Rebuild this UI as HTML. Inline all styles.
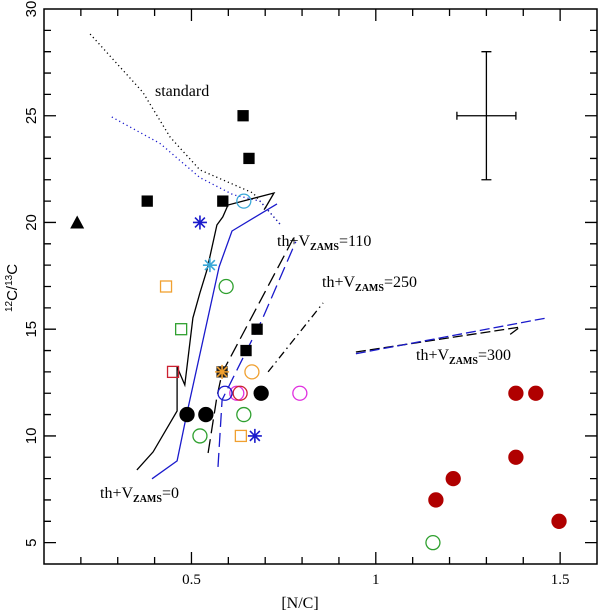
<!DOCTYPE html>
<html><head><meta charset="utf-8"><style>
html,body{margin:0;padding:0;background:#fff;width:600px;height:613px;overflow:hidden}
svg text{font-family:"Liberation Serif",serif;fill:#000}
</style></head><body>
<svg id="chart" width="600" height="613" viewBox="0 0 600 613" xmlns="http://www.w3.org/2000/svg">
<g id="curves"></g>
<g id="marks"></g>
<g id="axes"></g>
<g id="labels"></g>
</svg>
<script>
// ---- data ----
const xTickLabels = [0.5, 1, 1.5];
const yTickLabels = [5, 10, 15, 20, 25, 30];
const filledSquaresX = [0.38, 0.585, 0.64, 0.656, 0.678, 0.648];
const filledSquaresY = [21, 21, 25, 23, 15, 14];
const triangleX = [0.19];
const triangleY = [20];
const blackDotsX = [0.488, 0.539, 0.689];
const blackDotsY = [11, 11, 12];
const redDotsX = [1.38, 1.434, 1.38, 1.21, 1.163, 1.497];
const redDotsY = [12, 12, 9, 8, 7, 6];
const greenCirclesX = [0.594, 0.642, 0.523, 1.155];
const greenCirclesY = [17, 11, 10, 5];
const magentaCirclesX = [0.623, 0.794];
const magentaCirclesY = [12, 12];
const redCircleX = [0.632];
const redCircleY = [12];
const blueCircleX = [0.591];
const blueCircleY = [12];
const orangeCircleX = [0.664];
const orangeCircleY = [13];
const cyanCircleX = [0.642];
const cyanCircleY = [21];
const orangeSquaresX = [0.431, 0.634];
const orangeSquaresY = [17, 10];
const greenSquareX = [0.472];
const greenSquareY = [15];
const redSquareX = [0.45];
const redSquareY = [13];
const blueStarsX = [0.523, 0.672];
const blueStarsY = [20, 10];
const cyanStarX = [0.55];
const cyanStarY = [18];
const orangeStarX = [0.583];
const orangeStarY = [13];
const errX = [1.3], errY = [25], errDx = [0.08], errDy = [3];
// model tracks
const th0BlackX = [0.352,0.396,0.461,0.461,0.482,0.504,0.523,0.542,0.569,0.585,0.599,0.724,0.705,0.697];
const th0BlackY = [8.41,9.25,11.17,13.23,12.39,15.53,16.70,17.78,19.88,20.26,20.82,21.38,20.82,20.6];
const th0BlueX = [0.393,0.461,0.488,0.575,0.61,0.732];
const th0BlueY = [7.99,8.83,11.08,17.92,19.6,20.87];
const stdBlackX = [0.225,0.368,0.442,0.523,0.667,0.74];
const stdBlackY = [28.83,26.1,24.0,22.46,21.38,19.93];
const stdBlueX = [0.284,0.415,0.523,0.613,0.686,0.74];
const stdBlueY = [24.94,23.7,22.1,21.3,21.0,19.93];
const v110BlackX = [0.545,0.569,0.583,0.781];
const v110BlackY = [9.2,11.83,12.95,19.41];
const v110BlueX = [0.572,0.583,0.691,0.783];
const v110BlueY = [8.55,11.69,15.43,19.1];
const v250X = [0.708,0.857];
const v250Y = [13.0,16.23];
const v300BlackX = [0.946,1.391,1.36];
const v300BlackY = [13.93,15.1,14.7];
const v300BlueX = [0.946,1.464];
const v300BlueY = [13.85,15.53];

// ---- scales ----
const X0=44, X1=597, Y0=564, Y1=9;
const xmin=0.1, xmax=1.6, ymin=4, ymax=30;
const sx = v => X0 + (v-xmin)/(xmax-xmin)*(X1-X0);
const sy = v => Y0 - (v-ymin)/(ymax-ymin)*(Y0-Y1);
const NS="http://www.w3.org/2000/svg";
function mk(tag, parent, attrs){const e=document.createElementNS(NS,tag);for(const k in attrs)e.setAttribute(k,attrs[k]);parent.appendChild(e);return e;}
const gC=document.getElementById('curves'), gM=document.getElementById('marks'), gA=document.getElementById('axes'), gL=document.getElementById('labels');

function line(xs, ys, color, dash, name, w){
  const d = xs.map((x,i)=>(i?'L':'M')+sx(x).toFixed(1)+' '+sy(ys[i]).toFixed(1)).join(' ');
  const p = mk('path', gC, {d:d, fill:'none', stroke:color, 'stroke-width':w||1.3});
  if(dash) p.setAttribute('stroke-dasharray', dash);
  
  
}
line(stdBlackX, stdBlackY, '#000', '1.2 3', 'standard-track-black', 1.3);
line(stdBlueX, stdBlueY, '#1a1acc', '1.2 3', 'standard-track-blue', 1.3);
line(th0BlackX, th0BlackY, '#000', null, 'rotation-0-track-black');
line(th0BlueX, th0BlueY, '#1a1acc', null, 'rotation-0-track-blue');
line(v110BlackX, v110BlackY, '#000', '14 6', 'rotation-110-track-black');
line(v110BlueX, v110BlueY, '#1a1acc', '14 6', 'rotation-110-track-blue');
line(v250X, v250Y, '#000', '8 4 1.5 4', 'rotation-250-track');
line(v300BlackX, v300BlackY, '#000', '10 4', 'rotation-300-track-black');
line(v300BlueX, v300BlueY, '#1a1acc', '10 4', 'rotation-300-track-blue');

function circles(xs, ys, color, filled, name){
  xs.forEach((x,i)=>{
    const c = mk('circle', gM, {cx:sx(x), cy:sy(ys[i]), r:7, fill:filled?color:'none', stroke:color, 'stroke-width':1.3});
    
    
  });
}
function squares(xs, ys, color, filled, name){
  xs.forEach((x,i)=>{
    const s = filled?10:11;
    const r = mk('rect', gM, {x:sx(x)-s/2, y:sy(ys[i])-s/2, width:s, height:s, fill:filled?color:'none', stroke:color, 'stroke-width':1.3});
    
    
  });
}
function stars(xs, ys, color, name){
  xs.forEach((x,i)=>{
    const cx=sx(x), cy=sy(ys[i]), R=7;
    let d='';
    for(let k=0;k<4;k++){const a=k*Math.PI/4;d+=`M${cx-R*Math.cos(a)} ${cy-R*Math.sin(a)}L${cx+R*Math.cos(a)} ${cy+R*Math.sin(a)}`;}
    const p = mk('path', gM, {d:d, stroke:color, 'stroke-width':1.6, fill:'none'});
    
    
  });
}
triangleX.forEach((x,i)=>{
  const cx=sx(x), cy=sy(triangleY[i]);
  const t = mk('polygon', gM, {points:`${cx-7},${cy+6} ${cx+7},${cy+6} ${cx},${cy-7}`, fill:'#000'});
  
  
});
squares(filledSquaresX, filledSquaresY, '#000', true, 'black-square-point');
circles(blackDotsX, blackDotsY, '#000', true, 'black-dot-point');
circles(redDotsX, redDotsY, '#b00000', true, 'red-dot-point');
circles(greenCirclesX, greenCirclesY, '#2fa02f', false, 'green-circle-point');
circles(magentaCirclesX, magentaCirclesY, '#e030e0', false, 'magenta-circle-point');
circles(redCircleX, redCircleY, '#cc2030', false, 'red-circle-point');
circles(blueCircleX, blueCircleY, '#1a1acc', false, 'blue-circle-point');
circles(orangeCircleX, orangeCircleY, '#f0a030', false, 'orange-circle-point');
circles(cyanCircleX, cyanCircleY, '#3aa8d8', false, 'cyan-circle-point');
squares(orangeSquaresX, orangeSquaresY, '#f0a030', false, 'orange-square-point');
squares(greenSquareX, greenSquareY, '#2fa02f', false, 'green-square-point');
squares(redSquareX, redSquareY, '#cc2030', false, 'red-square-point');
squares(orangeStarX, orangeStarY, '#222', true, 'orange-star-square-point');
stars(orangeStarX, orangeStarY, '#f0a030', 'orange-star-point');
stars(blueStarsX, blueStarsY, '#1a1acc', 'blue-star-point');
stars(cyanStarX, cyanStarY, '#3aa8d8', 'cyan-star-point');

errX.forEach((x,i)=>{
  const cx=sx(x), cy=sy(errY[i]);
  const d=`M${sx(x-errDx[i])} ${cy}L${sx(x+errDx[i])} ${cy}M${cx} ${sy(errY[i]-errDy[i])}L${cx} ${sy(errY[i]+errDy[i])}`+
    `M${sx(x-errDx[i])} ${cy-4}L${sx(x-errDx[i])} ${cy+4}M${sx(x+errDx[i])} ${cy-4}L${sx(x+errDx[i])} ${cy+4}`+
    `M${cx-5} ${sy(errY[i]-errDy[i])}L${cx+5} ${sy(errY[i]-errDy[i])}M${cx-5} ${sy(errY[i]+errDy[i])}L${cx+5} ${sy(errY[i]+errDy[i])}`;
  const p = mk('path', gM, {d:d, stroke:'#000', 'stroke-width':1.3, fill:'none'});
  
  
});

// axes frame
const fr = mk('rect', gA, {x:X0, y:Y1, width:X1-X0, height:Y0-Y1, fill:'none', stroke:'#000', 'stroke-width':1.5});


let td='';
for(let k=2;k<=15;k++){const v=k/10, x=sx(v), L=(k%5===0)?12:7; td+=`M${x} ${Y0}L${x} ${Y0-L}M${x} ${Y1}L${x} ${Y1+L}`;}
for(let v=5;v<=29;v++){const y=sy(v), L=(v%5===0)?12:7; td+=`M${X0} ${y}L${X0+L} ${y}M${X1} ${y}L${X1-L} ${y}`;}
const tk = mk('path', gA, {d:td, stroke:'#000', 'stroke-width':1.3, fill:'none'});


xTickLabels.forEach(v=>{
  const t = mk('text', gA, {x:sx(v), y:584, 'text-anchor':'middle', 'font-size':15});
  t.textContent = String(v);
  
  
});
yTickLabels.forEach(v=>{
  const y=sy(v);
  const t = mk('text', gA, {x:36, y:y, 'text-anchor':'middle', 'font-size':15, style:'font-family:"Liberation Sans",sans-serif', transform:`rotate(-90 36 ${y})`});
  t.textContent = String(v);
  
  
});
</script>
<svg style="position:absolute;left:0;top:0" width="600" height="613">
<text x="300" y="608" text-anchor="middle" font-size="16">[N/C]</text>
<text x="17" y="288" text-anchor="middle" font-size="15" style="font-family:'Liberation Sans',sans-serif" transform="rotate(-90 17 288)"><tspan font-size="10" dy="-5">12</tspan><tspan dy="5">C/</tspan><tspan font-size="10" dy="-5">13</tspan><tspan dy="5">C</tspan></text>
<text x="155" y="96" font-size="16">standard</text>
<text x="277" y="246" font-size="16">th+V<tspan font-size="10" font-weight="bold" dy="4">ZAMS</tspan><tspan dy="-4">=110</tspan></text>
<text x="322" y="287" font-size="16">th+V<tspan font-size="10" font-weight="bold" dy="4">ZAMS</tspan><tspan dy="-4">=250</tspan></text>
<text x="416" y="360" font-size="16">th+V<tspan font-size="10" font-weight="bold" dy="4">ZAMS</tspan><tspan dy="-4">=300</tspan></text>
<text x="100" y="498" font-size="16">th+V<tspan font-size="10" font-weight="bold" dy="4">ZAMS</tspan><tspan dy="-4">=0</tspan></text>
</svg>
</body></html>
